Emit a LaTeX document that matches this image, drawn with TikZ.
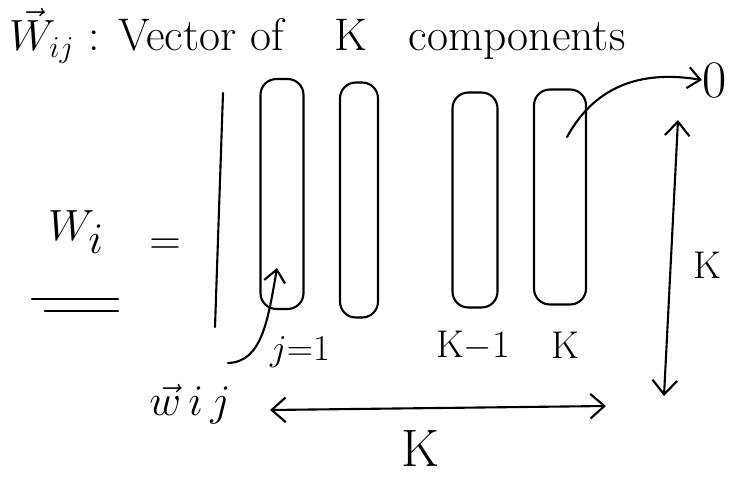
\documentclass[tikz,border=0pt]{standalone}
\usepackage{amsmath,amssymb}
\usepackage{tikz}
\usetikzlibrary{positioning,arrows.meta}

\begin{document}
\begin{tikzpicture}[x=0.02cm, y=-0.02cm, line width=1.2pt, line cap=round,
  col/.style={draw, rounded corners=9pt, minimum width=0.86cm, minimum height=4.5cm, inner sep=0pt},
  lbl/.style={font=\fontsize{22}{26}\selectfont, inner sep=1pt},
  tip/.style={-{Straight Barb[length=7pt,width=12pt]}},
  both/.style={{Straight Barb[length=8pt,width=14pt]}-{Straight Barb[length=8pt,width=14pt]}}]
  \useasboundingbox (0,0) rectangle (733,477);

  % heading
  \node[font=\fontsize{26}{30}\selectfont, anchor=west, inner sep=0pt] (title) at (8,36)
    {$\vec{W}_{ij}$ : Vector of \hspace{0.5em} K \hspace{0.3em} components};

  % the matrix W_i
  \node[font=\fontsize{44}{50}\selectfont, inner sep=0pt] (Wi) at (76,232) {$W_i$};
  \draw (32,299) -- (118,299);
  \draw (45,311) -- (118,311);
  \node[font=\fontsize{30}{34}\selectfont] (eq) at (165,247) {$=$};
  \draw (223,93) -- (215,327);

  \node[col, minimum width=0.86cm, minimum height=4.6cm] (c1) at (282,194) {};
  \node[col, minimum width=0.76cm, minimum height=4.7cm] (c2) at (359,200) {};
  \node[col, minimum width=0.90cm, minimum height=4.3cm] (cKm) at (475,200) {};
  \node[col, minimum width=1.04cm, minimum height=4.3cm] (cK) at (560,197) {};

  % column labels
  \node[lbl] (j1) at (300,352) {$j{=}1$};
  \node[lbl] (lKm) at (473,346) {K$-$1};
  \node[lbl] (lK) at (565,345) {K};

  % pointer to the first column
  \coordinate (s1) at (228,363);
  \coordinate (p1) at (277,268);
  \draw[tip] (s1) .. controls (262,362) and (268,320) .. (p1);

  % pointer out of the last column
  \node[font=\fontsize{30}{34}\selectfont, inner sep=0pt] (zero) at (715,80) {0};
  \coordinate (s2) at (567,137);
  \draw[tip] (s2) .. controls (590,95) and (630,68) .. (zero.west);

  % height of a column
  \coordinate (vt) at (678,120);
  \coordinate (vb) at (664,396);
  \draw[both] (vt) -- (vb);
  \node[lbl] (kv) at (707,265) {K};

  % number of columns
  \node[font=\fontsize{26}{30}\selectfont, inner sep=0pt] (wij) at (190,404) {$\vec{w}\,i\,j$};
  \coordinate (hl) at (270,410);
  \coordinate (hr) at (606,406);
  \draw[both] (hl) -- (hr);
  \node[font=\fontsize{30}{34}\selectfont] (kh) at (420,448) {K};
\end{tikzpicture}
\end{document}
